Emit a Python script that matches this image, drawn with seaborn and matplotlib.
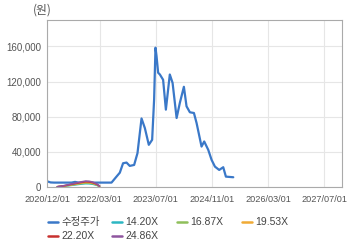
import matplotlib
matplotlib.use("Agg")
import matplotlib.pyplot as plt
import matplotlib.dates as mdates
from matplotlib.lines import Line2D
from matplotlib.ticker import FuncFormatter
import seaborn as sns
import pandas as pd

price_dates = [
    "2020-12-01", "2021-01-01", "2021-02-01", "2021-03-01", "2021-04-01", "2021-05-01",
    "2021-06-01", "2021-07-01", "2021-08-01", "2021-09-01", "2021-10-01", "2021-11-01",
    "2021-12-01", "2022-01-01", "2022-02-01", "2022-03-01", "2022-04-01", "2022-05-01",
    "2022-06-13", "2022-07-26", "2022-08-24", "2022-09-21", "2022-10-21", "2022-11-18",
    "2022-12-26", "2023-01-24", "2023-02-28", "2023-03-29", "2023-05-02", "2023-05-31",
    "2023-06-17", "2023-06-29", "2023-07-08", "2023-07-22", "2023-08-06", "2023-09-03",
    "2023-09-27", "2023-10-31", "2023-11-24", "2023-12-29", "2024-01-26", "2024-03-01",
    "2024-03-24", "2024-04-22", "2024-05-27", "2024-06-19", "2024-08-01", "2024-08-24",
    "2024-09-28", "2024-10-27", "2024-11-25", "2025-01-01", "2025-02-05", "2025-02-28",
    "2025-05-03",
]
price_values = [
    6500, 5200, 5000, 5000, 5000, 5000,
    5000, 5000, 5800, 5000, 5000, 5000,
    5000, 5000, 5000, 5000, 5000, 5000,
    5000, 11800, 16300, 27000, 27800, 24000,
    25100, 38500, 78000, 67000, 48000, 53700,
    99400, 158500, 149000, 130000, 128000, 122000,
    88000, 128000, 118500, 78500, 95700, 114000,
    91800, 85000, 84200, 72800, 46000, 51800,
    42300, 30900, 23200, 19400, 22500, 11800,
    11100,
]

band_dates = [
    "2021-03-01", "2021-04-01", "2021-05-01", "2021-06-01", "2021-07-01", "2021-08-01",
    "2021-09-01", "2021-10-01", "2021-11-01", "2021-12-01", "2022-01-01", "2022-02-01",
    "2022-03-01",
]
band_1420 = [170, 510, 910, 1430, 1940, 2460, 2970, 3430, 3830, 3710, 3200, 2170, 690]
band_1687 = [200, 610, 1090, 1700, 2310, 2920, 3530, 4070, 4550, 4410, 3800, 2580, 810]
band_1953 = [240, 710, 1260, 1960, 2670, 3380, 4090, 4710, 5270, 5110, 4400, 2990, 940]
band_2220 = [270, 800, 1430, 2230, 3040, 3840, 4640, 5360, 5990, 5800, 5000, 3390, 1070]
band_2486 = [300, 900, 1600, 2500, 3400, 4300, 5200, 6000, 6700, 6500, 5600, 3800, 1200]

series_labels = ["수정주가", "14.20X", "16.87X", "19.53X", "22.20X", "24.86X"]
series_colors = ["#3a78c8", "#2cb6c2", "#8fbf5a", "#f0aa35", "#c8312f", "#8e559f"]

x_ticks = ["2020-12-01", "2022-03-01", "2023-07-01", "2024-11-01", "2026-03-01", "2027-07-01"]
y_ticks = [0, 40000, 80000, 120000, 160000]

sns.set_theme(style="white")
plt.rcParams["font.family"] = ["Liberation Sans", "Noto Sans CJK KR", "DejaVu Sans"]

fig = plt.figure(figsize=(3.6, 2.48), dpi=100)
ax = fig.add_axes([47 / 360, 1 - 187 / 248, (342 - 47) / 360, (187 - 20) / 248])

price_df = pd.DataFrame({"date": pd.to_datetime(price_dates), "value": price_values})
sns.lineplot(data=price_df, x="date", y="value", ax=ax, color=series_colors[0], lw=1.6)

for vals, col in zip([band_1420, band_1687, band_1953, band_2220, band_2486], series_colors[1:]):
    bdf = pd.DataFrame({"date": pd.to_datetime(band_dates), "value": vals})
    sns.lineplot(data=bdf, x="date", y="value", ax=ax, color=col, lw=1.2)

ax.set_xlim(pd.Timestamp("2020-12-01"), pd.Timestamp("2027-12-01"))
ax.set_ylim(0, 190000)
ax.set_xticks(pd.to_datetime(x_ticks))
ax.xaxis.set_major_formatter(mdates.DateFormatter("%Y/%m/%d"))
ax.set_yticks(y_ticks)
ax.yaxis.set_major_formatter(FuncFormatter(lambda v, p: f"{int(v):,}"))
ax.set_xlabel("")
ax.set_ylabel("")
ax.grid(True, color="#e6e6e6", lw=0.8)
for s in ax.spines.values():
    s.set_color("#aaaaaa")
    s.set_linewidth(0.8)
ax.tick_params(axis="x", labelsize=6.6, colors="#555555", length=3, width=0.6, pad=3)
ax.tick_params(axis="y", labelsize=7, colors="#555555", length=0, pad=4)
for lab in ax.get_xticklabels() + ax.get_yticklabels():
    lab.set_color("#555555")

fig.text(42 / 360, 1 - 10 / 248, "(원)", fontsize=8.5, color="#555555", ha="center", va="center",
         family=["Noto Sans CJK KR", "DejaVu Sans"])

# legend
leg_pos = [(48, 222), (112, 222), (177, 222), (242, 222), (48, 236), (112, 236)]
for (lx, ly), lab, col in zip(leg_pos, series_labels, series_colors):
    fig.add_artist(Line2D([lx / 360, (lx + 10) / 360], [1 - ly / 248, 1 - ly / 248],
                          color=col, lw=1.8, transform=fig.transFigure))
    fig.text((lx + 13) / 360, 1 - ly / 248, lab, fontsize=7.5, color="#444444", va="center", ha="left",
             family=["Noto Sans CJK KR", "DejaVu Sans"] if lab == "수정주가" else ["Liberation Sans"])

fig.savefig("out.png", dpi=100)
